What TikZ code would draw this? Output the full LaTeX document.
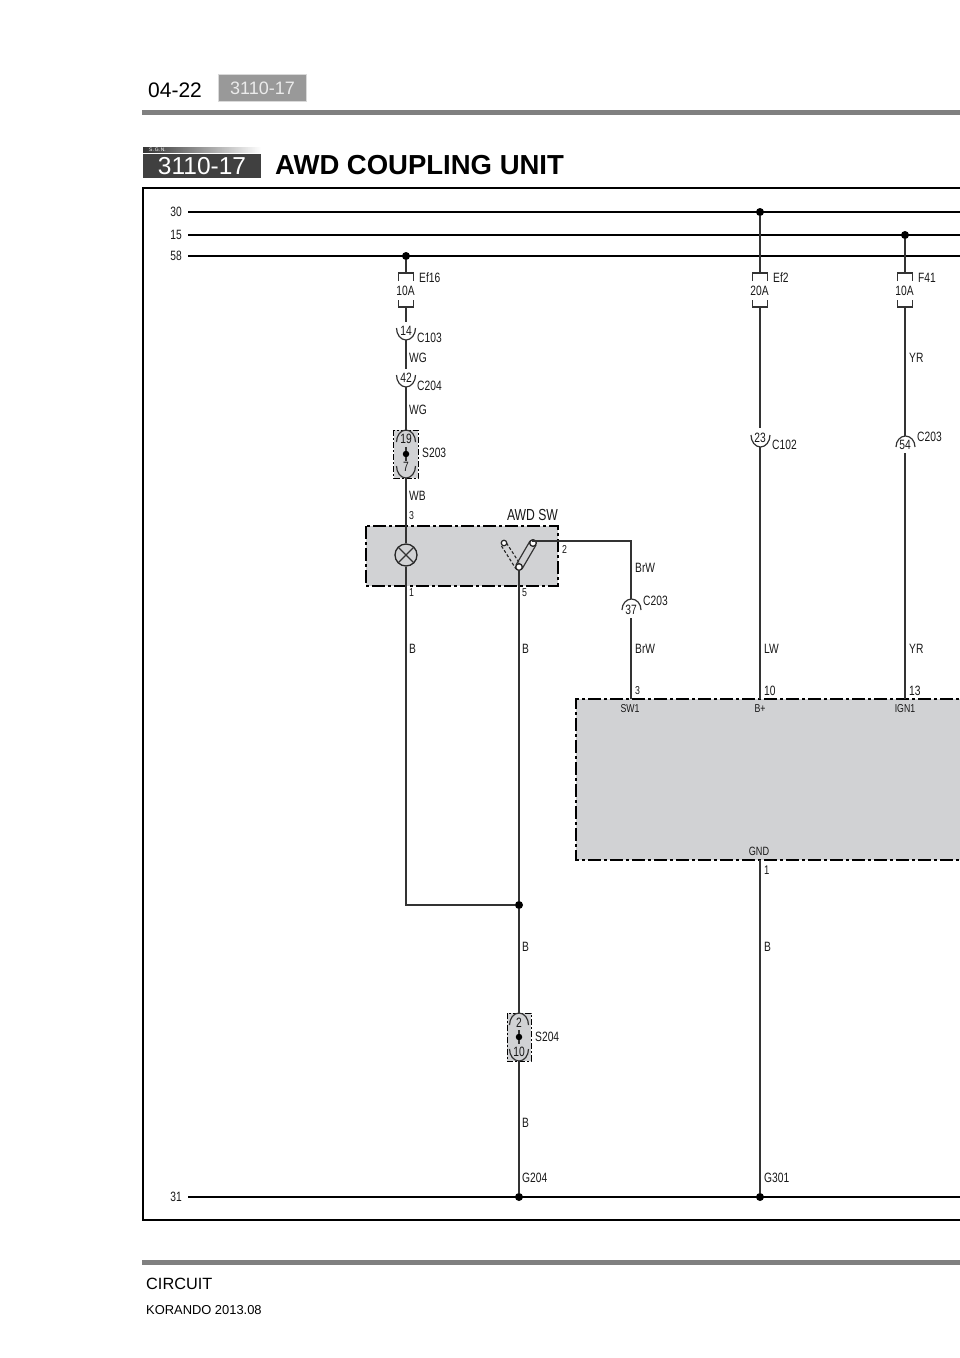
\documentclass[tikz,border=0pt]{standalone}
\usepackage{fontspec}
\setmainfont{Liberation Sans}
\newfontfamily\lab[FakeStretch=0.76]{Liberation Sans}
\usetikzlibrary{positioning,fadings}
\definecolor{unitgrey}{HTML}{D1D2D4}
\definecolor{rulegrey}{HTML}{808080}
\tikzset{
  wire/.style={draw=black!80, line width=1.2pt},
  bus/.style={draw=black, line width=2pt},
  txt/.style={inner sep=0pt, font=\lab\fontsize{#1}{#1}\selectfont, text=black!90, anchor=west},
  txt/.default=13.5,
  dot/.style={circle, fill=black, inner sep=0pt, minimum size=8pt},
  unitbox/.style={fill=unitgrey, draw=black, line width=#1, dash pattern=on 13pt off 3pt on 3pt off 3pt},
  splicebox/.style={fill=unitgrey, draw=black, line width=0.9pt, dash pattern=on 6pt off 2pt on 2pt off 2pt},
  pin/.style={circle, draw=black!85, fill=white, line width=1.2pt, inner sep=0pt, minimum size=6.5pt},
}
% fuse, #1 name, #2 value, #3 label, #4 x
\newcommand{\fuse}[4]{
  \coordinate (#1t) at (#4,273);
  \coordinate (#1b) at (#4,307);
  \draw[wire] (#4-7.5,281) |- (#4+7.5,273) -- (#4+7.5,281);
  \draw[wire] (#4-7.5,300) |- (#4+7.5,307) -- (#4+7.5,300);
  \node[txt, anchor=center] (#1v) at (#4-0.5,291) {#2};
  \node[txt] (#1n) at (#4+13,278) {#3};
}
\begin{document}
\begin{tikzpicture}[x=1pt,y=-1pt]
  \useasboundingbox (0,0) rectangle (960,1358);

  % page head
  \node[inner sep=0pt, anchor=west, font=\fontsize{21}{21}\selectfont] (page) at (148,90) {04-22};
  \node[fill=black!40, draw=black!15, line width=1pt, minimum width=88pt, minimum height=27pt, inner sep=0pt, text=black!8, font=\fontsize{18}{18}\selectfont] (tab) at (262.5,88) {3110-17};
  \fill[rulegrey] (142,109.5) rectangle (960,114.5);
  \fill[black!80, path fading=east] (143,147) rectangle (261,153);
  \node[inner sep=0pt, text=white, font=\fontsize{5}{5}\selectfont, anchor=west] (sgn) at (149,150) {S.\,G.\,N.};
  \node[fill=black!75, minimum width=118pt, minimum height=24pt, inner sep=0pt, text=white, font=\fontsize{24.5}{24.5}\selectfont] (badge) at (202,166) {3110-17};
  \node[inner sep=0pt, anchor=west, font=\bfseries\fontsize{27.5}{27.5}\selectfont] (title) at (275,165) {AWD COUPLING UNIT};

  % frame
  \draw[black, line width=1.4pt] (970,188) -- (143,188) -- (143,1220) -- (970,1220);

  % grey boxes first
  \path[unitbox=1.3pt] (366,526) rectangle (558,586);
  \path[unitbox=2.4pt] (975,699) -- (576,699) -- (576,860) -- (975,860);
  \path[splicebox] (393.5,430) rectangle (418,478);
  \path[splicebox] (507,1013) rectangle (531,1061);

  % bus bars
  \foreach \busname/\busy in {30/212,15/235,58/256,31/1197}{
    \draw[bus] (188,\busy) -- (970,\busy);
    \node[txt, anchor=east] (bus\busname) at (182,\busy) {\busname};
  }
  \node[dot] (j58) at (406,256) {};
  \node[dot] (j30) at (760,212) {};
  \node[dot] (j15) at (905,235) {};
  \node[dot] (g204) at (519,1197) {};
  \node[dot] (g301) at (760,1197) {};
  \node[dot] (jb) at (519,905) {};

  % fuses
  \fuse{ef16}{10A}{Ef16}{406}
  \fuse{ef2}{20A}{Ef2}{760}
  \fuse{f41}{10A}{F41}{905}
  \draw[wire] (j58) -- (ef16t);
  \draw[wire] (j30) -- (ef2t);
  \draw[wire] (j15) -- (f41t);

  % left branch
  \coordinate (c103t) at (406,322);
  \coordinate (c103b) at (406,340);
  \coordinate (c204t) at (406,369);
  \coordinate (c204b) at (406,387);
  \coordinate (s203t) at (406,430);
  \coordinate (s203b) at (406,478);
  \draw[wire] (ef16b) -- (c103t);
  \draw[wire] (396.5,328) arc[start angle=180, end angle=0, x radius=9.5, y radius=12];
  \node[txt, anchor=center] (n14) at (406,331) {14};
  \node[txt] (c103) at (417,338) {C103};
  \draw[wire] (c103b) -- (c204t);
  \draw[wire] (396.5,375) arc[start angle=180, end angle=0, x radius=9.5, y radius=12];
  \node[txt, anchor=center] (n42) at (406,378) {42};
  \node[txt] (c204) at (417,386) {C204};
  \draw[wire] (c204b) -- (s203t);
  \node[txt] (wg1) at (409,358) {WG};
  \node[txt] (wg2) at (409,410) {WG};
  \draw[wire] (396.5,442) arc[start angle=180, end angle=360, x radius=9.5, y radius=12];
  \draw[wire] (396.5,466) arc[start angle=180, end angle=0, x radius=9.5, y radius=12];
  \node[txt, anchor=center] (n19) at (406,439) {19};
  \node[txt, anchor=center] (n7) at (406,467) {7};
  \node[dot, minimum size=6.5pt] (s203d) at (406,454) {};
  \draw[wire] (406,447) -- (s203d) -- (406,461);
  \node[txt] (s203) at (422,453) {S203};
  \node[txt] (wb) at (409,496) {WB};
  \node[txt=11.5] (p3a) at (409,516) {3};

  % switch
  \node[txt=16, anchor=center] (awdsw) at (532.5,515) {AWD SW};
  \node[circle, draw=black!85, line width=1.3pt, inner sep=0pt, minimum size=22pt] (lamp) at (406,555) {};
  \draw[wire] (lamp.north west) -- (lamp.south east) (lamp.north east) -- (lamp.south west);
  \draw[wire] (s203b) -- (lamp);
  \coordinate (corner) at (406,905);
  \draw[wire] (lamp) -- (corner) -- (jb);
  \node[pin, minimum size=5.5pt] (sw0) at (504,543) {};
  \node[pin] (sw1) at (533,543) {};
  \node[pin] (sw2) at (519,567) {};
  \draw[draw=black!85, line width=1.1pt, densely dashed] (501.5,546) -- (516,569) (506.5,543) -- (520,564);
  \draw[wire] (530,541) -- (516,565) (536,545) -- (522,569);
  \node[pin] at (sw1) {};
  \node[pin] at (sw2) {};
  \coordinate (brwc) at (631,541);
  \coordinate (c203at) at (631,599);
  \coordinate (c203ab) at (631,618);
  \draw[wire] (sw1) -- (533,541) -- (brwc) -- (c203at);
  \draw[wire] (sw2) -- (jb);
  \node[txt=11.5] (p2) at (562,549) {2};
  \node[txt=11.5] (p1) at (409,593) {1};
  \node[txt=11.5] (p5) at (522,593) {5};
  \node[txt] (brw1) at (635,568) {BrW};
  \draw[wire] (622,610) arc[start angle=180, end angle=360, x radius=9.5, y radius=11];
  \node[txt, anchor=center] (n37) at (631,610) {37};
  \node[txt] (c203a) at (643,601) {C203};
  \draw[wire] (c203ab) -- (631,699);
  \node[txt] (brw2) at (635,649) {BrW};
  \node[txt] (b1) at (409,649) {B};
  \node[txt] (b2) at (522,649) {B};

  % right branches
  \coordinate (c102t) at (760,428);
  \coordinate (c102b) at (760,447);
  \draw[wire] (ef2b) -- (c102t);
  \draw[wire] (751,435) arc[start angle=180, end angle=0, x radius=9.5, y radius=12];
  \node[txt, anchor=center] (n23) at (760,438) {23};
  \node[txt] (c102) at (772,445) {C102};
  \draw[wire] (c102b) -- (760,699);
  \node[txt] (lw) at (764,649) {LW};
  \coordinate (c203bt) at (905,436);
  \coordinate (c203bb) at (905,453);
  \draw[wire] (f41b) -- (c203bt);
  \draw[wire] (896,447) arc[start angle=180, end angle=360, x radius=9.5, y radius=11];
  \node[txt, anchor=center] (n54) at (905,445) {54};
  \node[txt] (c203b) at (917,437) {C203};
  \node[txt] (yr1) at (909,358) {YR};
  \draw[wire] (c203bb) -- (905,699);
  \node[txt] (yr2) at (909,649) {YR};

  % unit labels
  \node[txt=11.5] (p3b) at (635,691) {3};
  \node[txt] (p10) at (764,691) {10};
  \node[txt] (p13) at (909,691) {13};
  \node[txt=11.5, anchor=center] (sw1l) at (630,709) {SW1};
  \node[txt=11.5, anchor=center] (bpl) at (760,709) {B+};
  \node[txt=11.5, anchor=center] (ign1) at (905,709) {IGN1};
  \node[txt=12, anchor=center] (gnd) at (759,851) {GND};
  \node[txt=12.5] (p1b) at (764,870) {1};

  % ground wires
  \draw[wire] (760,860) -- (g301);
  \draw[wire] (jb) -- (519,1013);
  \draw[wire] (519,1061) -- (g204);
  \draw[wire] (509.5,1025) arc[start angle=180, end angle=360, x radius=9.5, y radius=12];
  \draw[wire] (509.5,1049) arc[start angle=180, end angle=0, x radius=9.5, y radius=12];
  \node[txt, anchor=center] (n2) at (519,1023) {2};
  \node[txt, anchor=center] (n10) at (519,1052) {10};
  \node[dot, minimum size=6.5pt] (s204d) at (519,1037) {};
  \draw[wire] (519,1030) -- (s204d) -- (519,1044);
  \node[txt] (s204) at (535,1037) {S204};
  \node[txt] (b3) at (522,947) {B};
  \node[txt] (b4) at (764,947) {B};
  \node[txt] (b5) at (522,1123) {B};
  \node[txt] (g204l) at (522,1178) {G204};
  \node[txt] (g301l) at (764,1178) {G301};

  % page foot
  \fill[rulegrey] (142,1259.5) rectangle (960,1264.5);
  \node[inner sep=0pt, anchor=west, font=\fontsize{16.3}{16.3}\selectfont] (foot) at (146,1284) {CIRCUIT};
  \node[inner sep=0pt, anchor=west, font=\fontsize{12.9}{12.9}\selectfont] (model) at (146,1310) {KORANDO 2013.08};
\end{tikzpicture}
\end{document}
